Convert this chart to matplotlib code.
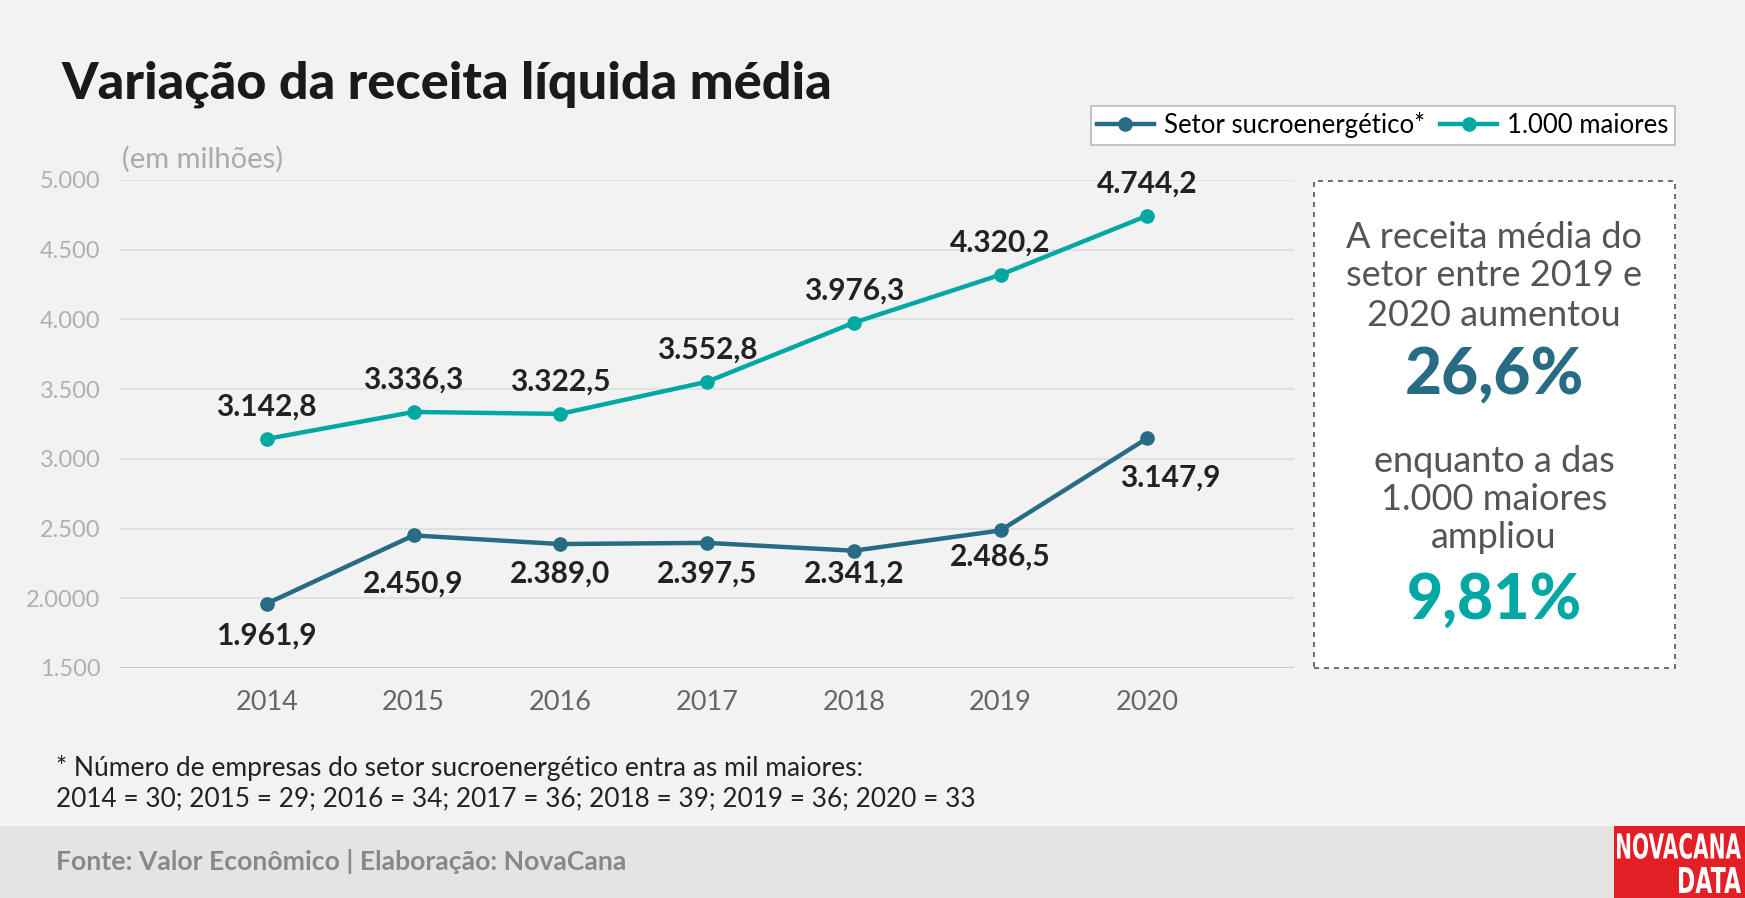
import matplotlib.pyplot as plt
from matplotlib.patches import Rectangle, PathPatch
from matplotlib.textpath import TextPath
from matplotlib.font_manager import FontProperties
from matplotlib.transforms import Affine2D

# data
years = [2014, 2015, 2016, 2017, 2018, 2019, 2020]
setor = [1961.9, 2450.9, 2389.0, 2397.5, 2341.2, 2486.5, 3147.9]
maiores = [3142.8, 3336.3, 3322.5, 3552.8, 3976.3, 4320.2, 4744.2]
setor_labels = ["1.961,9", "2.450,9", "2.389,0", "2.397,5", "2.341,2", "2.486,5", "3.147,9"]
maiores_labels = ["3.142,8", "3.336,3", "3.322,5", "3.552,8", "3.976,3", "4.320,2", "4.744,2"]
y_ticks = [1500, 2000, 2500, 3000, 3500, 4000, 4500, 5000]
y_ticklabels = ["1.500", "2.0000", "2.500", "3.000", "3.500", "4.000", "4.500", "5.000"]
box_lines = ["A receita média do", "setor entre 2019 e", "2020 aumentou"]
box_lines2 = ["enquanto a das", "1.000 maiores", "ampliou"]

W, H = 1745, 898
C_SETOR = "#276b85"
C_MAIORES = "#00a8a3"
BG = "#f2f2f2"

plt.rcParams["font.family"] = ["Lato", "DejaVu Sans"]

fig = plt.figure(figsize=(W / 100, H / 100), dpi=100, facecolor=BG)


def fx(x):
    return x / W


def fy(y):
    return 1 - y / H


def fit_text(s, x0, x1, ytop, ybot, color="white"):
    # squeeze a text path into a pixel box (top-left origin)
    tp = TextPath((0, 0), s, size=1, prop=FontProperties(family="DejaVu Sans", weight="bold"))
    ext = tp.get_extents()
    sx = (x1 - x0) / ext.width
    sy = (ybot - ytop) / ext.height
    tr = Affine2D().translate(-ext.x0, -ext.y0).scale(sx, sy).translate(x0, H - ybot)
    fig.patches.append(PathPatch(tr.transform_path(tp), facecolor=color, edgecolor="none",
                                 transform=None, zorder=2))


# bottom band + logo
fig.patches.append(Rectangle((0, 0), 1, fy(826), transform=fig.transFigure,
                             facecolor="#e4e4e4", edgecolor="none", zorder=0))
fig.patches.append(Rectangle((fx(1614), 0), fx(W - 1614), fy(826), transform=fig.transFigure,
                             facecolor="#e31e24", edgecolor="none", zorder=1))
fit_text("NOVACANA", 1617, 1741, 833, 859)
fit_text("DATA", 1679, 1741, 867, 893)

# title, notes
fig.text(fx(61), fy(98), "Variação da receita líquida média", fontsize=37.5,
         fontweight="black", color="#1a1a1a", va="baseline")
fig.text(fx(122), fy(159), "(em milhões)", fontsize=21, color="#aaaaaa", va="center")
fig.text(fx(56), fy(768), "* Número de empresas do setor sucroenergético entra as mil maiores:",
         fontsize=19, color="#222222", va="center")
fig.text(fx(56), fy(799), "2014 = 30; 2015 = 29; 2016 = 34; 2017 = 36; 2018 = 39; 2019 = 36; 2020 = 33",
         fontsize=18.8, color="#222222", va="center")
fig.text(fx(56), fy(862), "Fonte: Valor Econômico | Elaboração: NovaCana", fontsize=19.2,
         fontweight="bold", color="#888888", va="center")

# axes
ax = fig.add_axes([fx(120), fy(668), fx(1294 - 120), fy(180) - fy(668)])
ax.set_facecolor(BG)
ax.set_xlim(2013, 2021)
ax.set_ylim(1500, 5000)
for s in ax.spines.values():
    s.set_visible(False)
ax.set_yticks(y_ticks)
ax.set_yticklabels(y_ticklabels)
ax.set_xticks(years)
ax.tick_params(axis="y", length=0, pad=14, labelsize=17, labelcolor="#b0b0b0")
ax.tick_params(axis="x", length=0, pad=16, labelsize=19.5, labelcolor="#666666")
for t in y_ticks:
    ax.axhline(t, color="#c8c8c8" if t == 1500 else "#e0e0e0", lw=1.5, zorder=0)

ax.plot(years, setor, color=C_SETOR, lw=3.2, marker="o", ms=9.5, label="Setor sucroenergético*",
        clip_on=False, zorder=3)
ax.plot(years, maiores, color=C_MAIORES, lw=3.2, marker="o", ms=9.5, label="1.000 maiores",
        clip_on=False, zorder=3)

setor_dy = [32, 48, 30, 31, 23, 26, 39]
setor_dx = [0, 0, 0, 0, 0, 0, 23]
for x, v, lab, dx, dy in zip(years, setor, setor_labels, setor_dx, setor_dy):
    ax.annotate(lab, (x, v), xytext=(dx, -dy), textcoords="offset pixels", ha="center",
                va="center", fontsize=21.5, fontweight="bold", color="#222222", annotation_clip=False)
for x, v, lab in zip(years, maiores, maiores_labels):
    ax.annotate(lab, (x, v), xytext=(0, 32), textcoords="offset pixels", ha="center",
                va="center", fontsize=21.5, fontweight="bold", color="#222222", annotation_clip=False)

leg = fig.legend(loc="upper right", bbox_to_anchor=(fx(1675), fy(106)), ncol=2, fontsize=18.5,
                 frameon=True, fancybox=False, edgecolor="#bbbbbb", facecolor="white",
                 handlelength=2.2, columnspacing=0.6, handletextpad=0.4, borderpad=0.25,
                 borderaxespad=0, framealpha=1)
leg.get_frame().set_linewidth(1.2)

# side box
fig.patches.append(Rectangle((fx(1314), fy(668)), fx(1675 - 1314), fy(181) - fy(668),
                             transform=fig.transFigure, facecolor="white", edgecolor="#555555",
                             linestyle=(0, (3, 3)), lw=1.2, zorder=1))
cx = fx(1494)
for yy, line in zip([237, 275, 315], box_lines):
    fig.text(cx, fy(yy), line, fontsize=26, color="#555555", ha="center", va="center")
fig.text(cx, fy(376), "26,6%", fontsize=46, fontweight="black", color=C_SETOR, ha="center", va="center")
for yy, line in zip([461, 499, 538], box_lines2):
    fig.text(cx, fy(yy), line, fontsize=26, color="#555555", ha="center", va="center")
fig.text(cx, fy(601), "9,81%", fontsize=45, fontweight="black", color=C_MAIORES, ha="center", va="center")

fig.savefig("out.png", dpi=100, facecolor=BG)
